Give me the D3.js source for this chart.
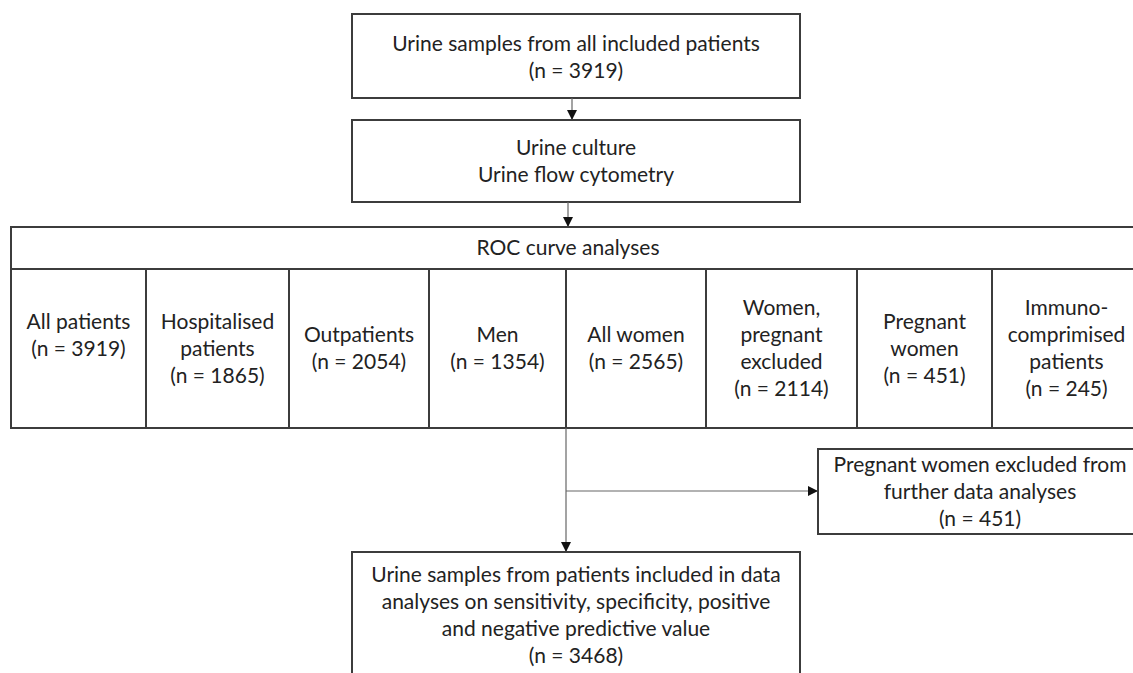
<!DOCTYPE html>
<html>
<head>
<meta charset="utf-8">
<script src="https://cdn.jsdelivr.net/npm/d3@7/dist/d3.min.js"></script>
<style>
  body { margin: 0; background: #fff; }
  svg { display: block; }
  text { font-family: Lato, "Open Sans", sans-serif; font-size: 21px; fill: #222; }
</style>
</head>
<body>
<div id="chart"></div>
<script>
// flow chart content
var sourceLines = ["Urine samples from all included patients"],
    sourceCount = 3919,
    methodLines = ["Urine culture", "Urine flow cytometry"],
    rocHeader = "ROC curve analyses",
    groupNames = [
      ["All patients"],
      ["Hospitalised", "patients"],
      ["Outpatients"],
      ["Men"],
      ["All women"],
      ["Women,", "pregnant", "excluded"],
      ["Pregnant", "women"],
      ["Immuno-", "comprimised", "patients"]
    ],
    groupCounts = [3919, 1865, 2054, 1354, 2565, 2114, 451, 245],
    excludedLines = ["Pregnant women excluded from", "further data analyses"],
    excludedCount = 451,
    finalLines = ["Urine samples from patients included in data",
                  "analyses on sensitivity, specificity, positive",
                  "and negative predictive value"],
    finalCount = 3468;

// layout
var width = 1133,
    height = 673,
    lineHeight = 27,
    colEdges = [11, 146, 289, 429, 566, 706, 857, 992, 1141],
    cellShift = [-13, 0, 0, 0, 0, 0, 0, 0],
    boxStroke = "#3c3c3c",
    arrowStroke = "#666";

function nLabel(n) { return "(n = " + n + ")"; }

var svg = d3.select("#chart")
  .append("svg")
  .attr("width", width)
  .attr("height", height);

svg.append("defs").append("marker")
  .attr("id", "head")
  .attr("markerUnits", "userSpaceOnUse")
  .attr("viewBox", "0 0 10 10")
  .attr("refX", 10).attr("refY", 5)
  .attr("markerWidth", 10).attr("markerHeight", 10)
  .attr("orient", "auto")
  .append("path")
  .attr("d", "M0,0L10,5L0,10Z")
  .attr("fill", "#111");

function box(x, y, w, h) {
  svg.append("rect")
    .attr("x", x).attr("y", y)
    .attr("width", w).attr("height", h)
    .attr("fill", "none")
    .attr("stroke", boxStroke)
    .attr("stroke-width", 2);
}

function lines(cx, cy, arr) {
  var y0 = cy - (arr.length - 1) * lineHeight / 2;
  svg.append("g").selectAll("text")
    .data(arr)
    .enter()
    .append("text")
    .attr("x", cx)
    .attr("y", function(d, i) { return y0 + i * lineHeight; })
    .attr("dy", "0.35em")
    .attr("text-anchor", "middle")
    .text(function(d) { return d; });
}

function arrow(pts) {
  svg.append("path")
    .attr("d", d3.line()(pts))
    .attr("fill", "none")
    .attr("stroke", arrowStroke)
    .attr("stroke-width", 1.2)
    .attr("marker-end", "url(#head)");
}

// top boxes
box(352, 14, 448, 84);
lines(576, 57, sourceLines.concat([nLabel(sourceCount)]));
arrow([[572, 98], [572, 120]]);

box(352, 120, 448, 82);
lines(576, 161, methodLines);
arrow([[568, 202], [568, 227]]);

// ROC table
var tTop = 227, tHead = 269, tBottom = 428;
box(colEdges[0], tTop, colEdges[colEdges.length - 1] - colEdges[0], tBottom - tTop);
svg.append("line")
  .attr("x1", colEdges[0]).attr("x2", colEdges[colEdges.length - 1])
  .attr("y1", tHead).attr("y2", tHead)
  .attr("stroke", boxStroke).attr("stroke-width", 2);
lines(568, (tTop + tHead) / 2, [rocHeader]);

svg.append("g").selectAll("line")
  .data(colEdges.slice(1, -1))
  .enter()
  .append("line")
  .attr("x1", function(d) { return d; })
  .attr("x2", function(d) { return d; })
  .attr("y1", tHead).attr("y2", tBottom)
  .attr("stroke", boxStroke).attr("stroke-width", 2);

groupNames.forEach(function(name, i) {
  var cx = (colEdges[i] + colEdges[i + 1]) / 2;
  lines(cx, (tHead + tBottom) / 2 + cellShift[i], name.concat([nLabel(groupCounts[i])]));
});

// exclusion branch
svg.append("line")
  .attr("x1", 566).attr("x2", 566)
  .attr("y1", tBottom).attr("y2", 491)
  .attr("stroke", arrowStroke).attr("stroke-width", 1.2);
arrow([[566, 491], [818, 491]]);
arrow([[566, 491], [566, 552]]);

box(818, 449, 340, 85);
lines(980, 491.5, excludedLines.concat([nLabel(excludedCount)]));

// final box
box(352, 552, 448, 140);
lines(576, 615.5, finalLines.concat([nLabel(finalCount)]));
</script>
</body>
</html>
